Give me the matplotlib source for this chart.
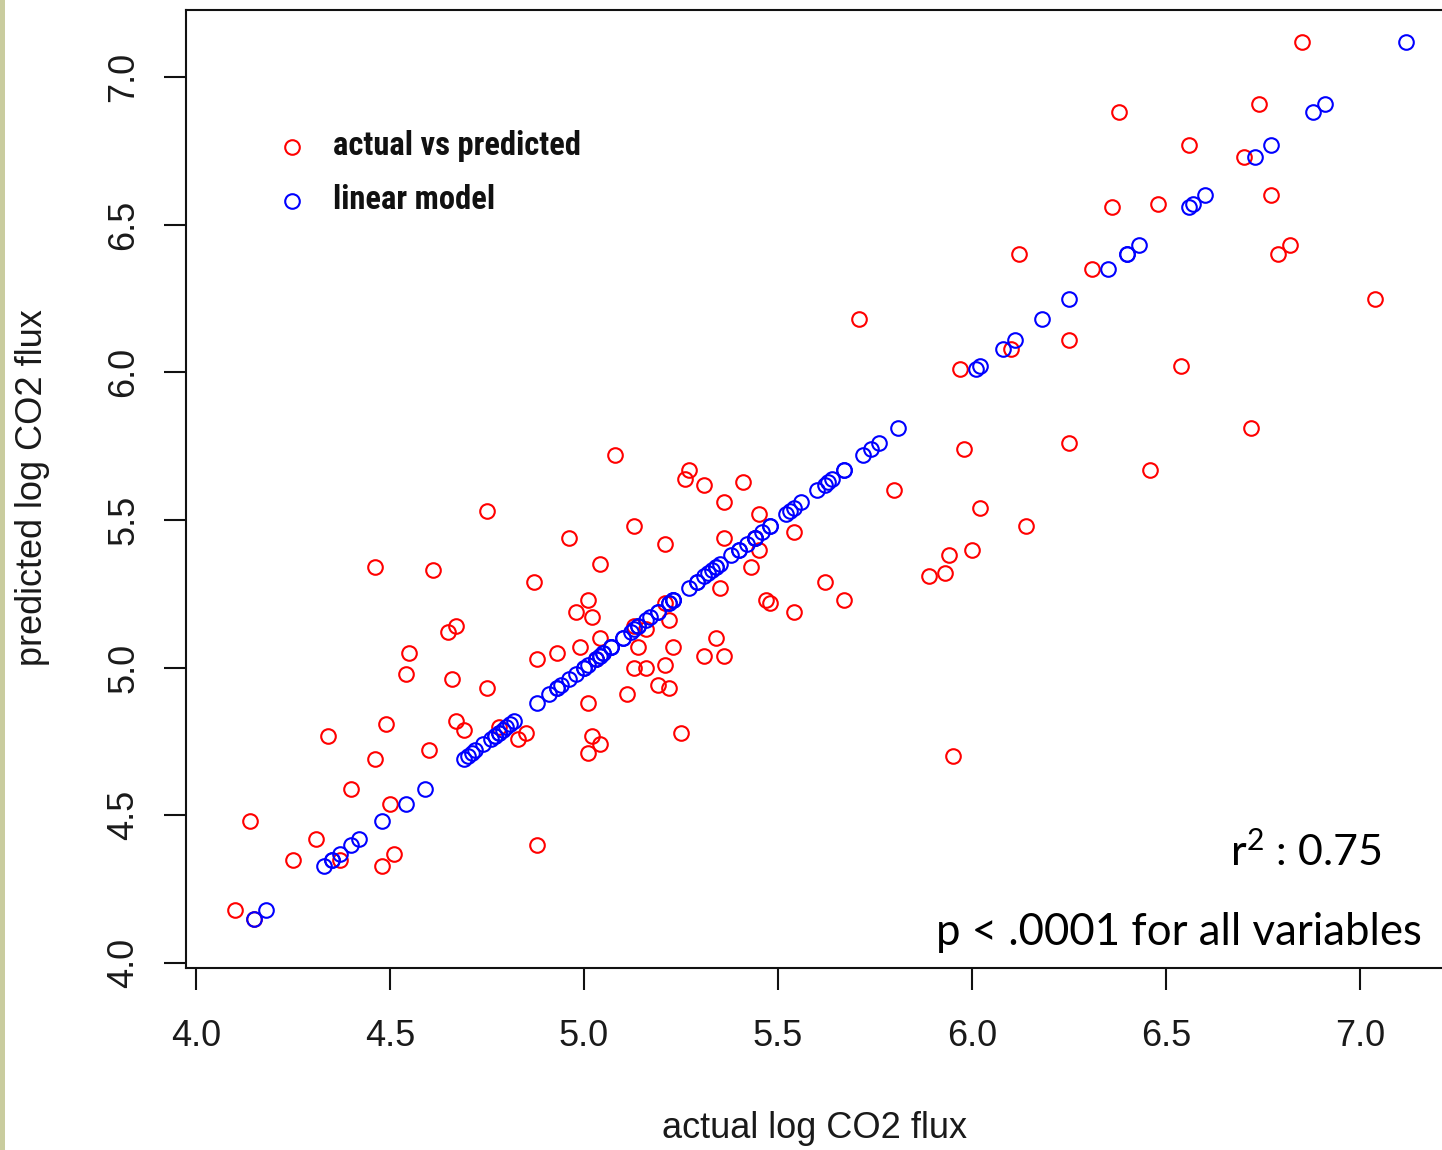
import matplotlib
matplotlib.use("Agg")
import matplotlib.pyplot as plt
from matplotlib import font_manager
from matplotlib.lines import Line2D
from matplotlib.patches import Rectangle
import numpy as np

# observed (actual) vs model-predicted log CO2 flux
actual = [6.85, 6.74, 6.38, 6.56, 6.70, 6.77, 6.36, 6.48, 6.79, 6.82,
          7.04, 6.12, 6.31, 5.71, 6.25, 6.10, 5.97, 6.54, 6.72, 5.98,
          6.25, 6.46, 5.80, 6.02, 6.14, 5.94, 6.00, 5.93, 5.89, 5.67,
          5.95, 5.62, 5.54, 5.54, 5.47, 5.48, 5.43, 5.45, 5.44, 5.45,
          5.41, 5.36, 5.36, 5.35, 5.31, 5.27, 5.26, 5.08, 5.13, 5.21,
          4.96, 5.04, 4.87, 5.01, 4.98, 5.02, 4.75, 4.46, 4.61, 4.67,
          4.65, 4.55, 4.54, 4.66, 4.75, 4.88, 4.93, 4.99, 5.04, 5.13,
          5.16, 5.14, 5.03, 5.13, 5.16, 5.19, 5.11, 5.01, 5.21, 5.22,
          5.23, 5.34, 5.31, 5.36, 5.21, 5.22, 5.25, 5.02, 5.04, 5.01,
          4.83, 4.85, 4.78, 4.67, 4.69, 4.49, 4.34, 4.60, 4.46, 4.40,
          4.50, 4.14, 4.31, 4.51, 4.48, 4.25, 4.37, 4.10, 4.88, 4.15]
predicted = [7.12, 6.91, 6.88, 6.77, 6.73, 6.60, 6.56, 6.57, 6.40, 6.43,
             6.25, 6.40, 6.35, 6.18, 6.11, 6.08, 6.01, 6.02, 5.81, 5.74,
             5.76, 5.67, 5.60, 5.54, 5.48, 5.38, 5.40, 5.32, 5.31, 5.23,
             4.70, 5.29, 5.19, 5.46, 5.23, 5.22, 5.34, 5.40, 5.44, 5.52,
             5.63, 5.56, 5.44, 5.27, 5.62, 5.67, 5.64, 5.72, 5.48, 5.42,
             5.44, 5.35, 5.29, 5.23, 5.19, 5.17, 5.53, 5.34, 5.33, 5.14,
             5.12, 5.05, 4.98, 4.96, 4.93, 5.03, 5.05, 5.07, 5.10, 5.14,
             5.13, 5.07, 5.03, 5.00, 5.00, 4.94, 4.91, 4.88, 5.22, 5.16,
             5.07, 5.10, 5.04, 5.04, 5.01, 4.93, 4.78, 4.77, 4.74, 4.71,
             4.76, 4.78, 4.80, 4.82, 4.79, 4.81, 4.77, 4.72, 4.69, 4.59,
             4.54, 4.48, 4.42, 4.37, 4.33, 4.35, 4.35, 4.18, 4.40, 4.15]

ticks = [4.0, 4.5, 5.0, 5.5, 6.0, 6.5, 7.0]
tick_labels = ["4.0", "4.5", "5.0", "5.5", "6.0", "6.5", "7.0"]
legend_labels = ["actual vs predicted", "linear model"]
r2_text = "r$^{2}$ : 0.75"
p_text = "p < .0001 for all variables"


def pick_font(names):
    for n in names:
        try:
            font_manager.findfont(font_manager.FontProperties(family=n),
                                  fallback_to_default=False)
            return n
        except ValueError:
            continue
    return "DejaVu Sans"


base_font = pick_font(["Liberation Sans", "Arial"])
narrow_font = pick_font(["Liberation Sans Narrow", "DejaVu Sans Condensed", "Roboto Condensed", "Liberation Sans"])
note_font = pick_font(["Lato", "Open Sans"])

plt.rcParams["font.family"] = [base_font, "DejaVu Sans"]
plt.rcParams["mathtext.fontset"] = "custom"
plt.rcParams["mathtext.rm"] = note_font
plt.rcParams["mathtext.it"] = note_font

W, H = 1442, 1150
fig = plt.figure(figsize=(W / 100, H / 100), dpi=100)
fig.patch.set_facecolor("white")

# thin strip of slide background on the far left
fig.add_artist(Rectangle((0, 0), 5 / W, 1, transform=fig.transFigure,
                         facecolor="#c9cc9e", edgecolor="none"))

# axes run a little past the right edge of the canvas
ax = fig.add_axes([186 / W, 1 - 968 / H, (1453 - 186) / W, (968 - 10) / H])
ax.set_xlim(3.974, 7.24)
ax.set_ylim(3.983, 7.227)

ms, mew = 10.5, 1.5
ax.plot(actual, predicted, "o", mfc="none", mec="#ff0000", ms=ms, mew=mew,
        linestyle="none", zorder=2)
ax.plot(predicted, predicted, "o", mfc="none", mec="#0000ff", ms=ms, mew=mew,
        linestyle="none", zorder=3)

for side in ["top", "left", "bottom", "right"]:
    ax.spines[side].set_linewidth(1.5)
    ax.spines[side].set_color("#111111")

ax.set_xticks(ticks)
ax.set_xticklabels(tick_labels)
ax.set_yticks(ticks)
ax.set_yticklabels(tick_labels, rotation=90, va="center")
ax.tick_params(axis="both", length=16, width=1.5, color="#111111",
               labelsize=26, labelcolor="#1a1a1a")
ax.tick_params(axis="x", pad=21)
ax.tick_params(axis="y", pad=16)

fig.text(815 / W, 1 - 1128 / H, "actual log CO2 flux", ha="center", va="center",
         fontsize=26, color="#1a1a1a")
fig.text(33 / W, 1 - 488 / H, "predicted log CO2 flux", ha="center", va="center",
         rotation=90, fontsize=26, color="#1a1a1a")

# legend, drawn by hand in the upper left corner
for label, color, ypx in zip(legend_labels, ["#ff0000", "#0000ff"], [147, 201]):
    fig.add_artist(Line2D([292 / W], [1 - ypx / H], marker="o", mfc="none",
                          mec=color, ms=ms, mew=mew, transform=fig.transFigure))
    fig.text(333 / W, 1 - (ypx - 1) / H, label, ha="left", va="center",
             fontsize=23.5, fontweight="bold", family=narrow_font, color="#111111")

fig.text(1230 / W, 1 - 866 / H, r2_text, ha="left", va="baseline",
         fontsize=31, family=note_font, color="#000000")
fig.text(936 / W, 1 - 945 / H, p_text, ha="left", va="baseline",
         fontsize=31.5, family=note_font, color="#000000")

fig.savefig("out.png", dpi=100, facecolor="white")
